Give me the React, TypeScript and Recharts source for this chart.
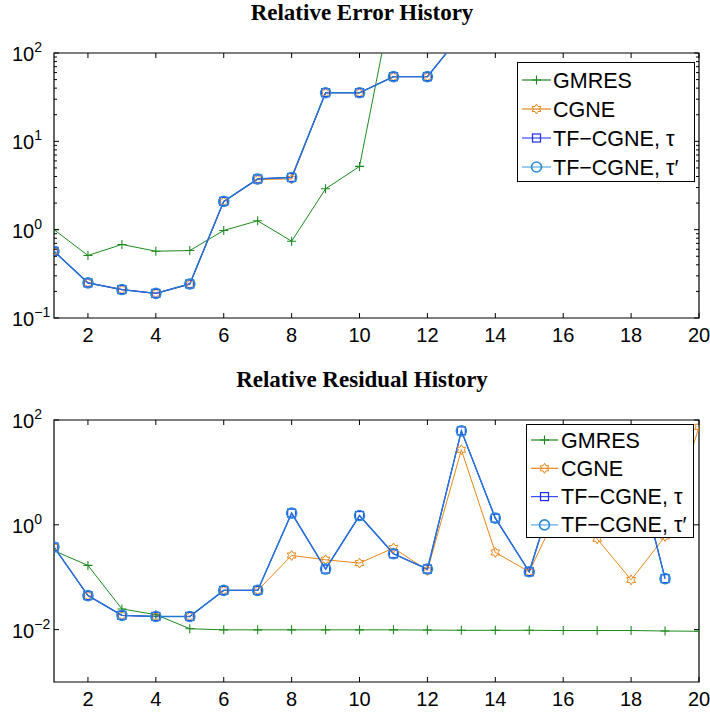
import React from 'react'
import { LineChart, Line, XAxis, YAxis, ReferenceArea, Legend } from 'recharts'

// iteration index shared by both panels
const iterations = [1, 2, 3, 4, 5, 6, 7, 8, 9, 10, 11, 12, 13, 14, 15, 16, 17, 18, 19, 20]

// relative error history (values above 10^2 run off the top of the axes)
const errGmres = [1.0, 0.51, 0.68, 0.57, 0.58, 0.98, 1.26, 0.74, 2.9, 5.2, 460, null, null, null, null, null, null, null, null, null]
const errCgne = [0.57, 0.25, 0.21, 0.19, 0.24, 2.08, 3.7, 3.75, 35.5, 35.5, 54, 54, 162, null, null, null, null, null, null, null]
const errTfTau = [0.57, 0.25, 0.21, 0.19, 0.243, 2.09, 3.75, 3.9, 35.5, 35.5, 54, 54, 162, null, null, null, null, null, null, null]
const errTfTauPrime = [0.57, 0.25, 0.21, 0.19, 0.243, 2.09, 3.75, 3.9, 35.5, 35.5, 54, 54, 162, null, null, null, null, null, null, null]

// relative residual history
const resGmres = [0.32, 0.168, 0.0248, 0.0193, 0.0104, 0.0099, 0.0099, 0.0099, 0.0099, 0.0099, 0.0099, 0.0098, 0.0097, 0.0097, 0.0097, 0.0096, 0.0096, 0.0096, 0.0094, 0.0093]
const resCgne = [0.376, 0.0445, 0.0187, 0.0178, 0.0178, 0.056, 0.056, 0.26, 0.215, 0.186, 0.36, 0.135, 27, 0.297, 0.127, 3, 0.54, 0.089, 0.6, 74]
const resTfTau = [0.376, 0.0445, 0.0187, 0.0178, 0.0178, 0.056, 0.056, 1.67, 0.143, 1.5, 0.28, 0.143, 62, 1.34, 0.127, 15, 6, 35, 0.094, null]
const resTfTauPrime = [0.376, 0.0445, 0.0187, 0.0178, 0.0178, 0.056, 0.056, 1.67, 0.143, 1.5, 0.28, 0.143, 62, 1.34, 0.127, 15, 6, 35, 0.094, null]

const xTicks = [2, 4, 6, 8, 10, 12, 14, 16, 18, 20]
const errTicks = [0.1, 0.2, 0.3, 0.4, 0.5, 0.6, 0.7, 0.8, 0.9, 1, 2, 3, 4, 5, 6, 7, 8, 9, 10, 20, 30, 40, 50, 60, 70, 80, 90, 100]
const resTicks = [0.01, 1, 100]

const seriesNames = ['GMRES', 'CGNE', 'TF\u2212CGNE, \u03c4', 'TF\u2212CGNE, \u03c4\u2032']

const GREEN = '#1c8a1c'
const ORANGE = '#e8861a'
const BLUE = '#1a2cf0'
const SKY = '#2b8ad8'

const FONT = '"Liberation Sans", Arial, sans-serif'
const SERIF = '"Liberation Serif", "Times New Roman", serif'

const errData = iterations.map((it, i) => ({
  it, gmres: errGmres[i], cgne: errCgne[i], tau: errTfTau[i], taup: errTfTauPrime[i],
}))
const resData = iterations.map((it, i) => ({
  it, gmres: resGmres[i], cgne: resCgne[i], tau: resTfTau[i], taup: resTfTauPrime[i],
}))

// ---- markers ----
function starPath(cx: number, cy: number, r: number) {
  const ri = r * 0.58
  let d = ''
  for (let k = 0; k < 12; k++) {
    const a = (Math.PI / 6) * k - Math.PI / 2
    const rr = k % 2 === 0 ? r : ri
    d += (k === 0 ? 'M' : 'L') + (cx + rr * Math.cos(a)).toFixed(2) + ',' + (cy + rr * Math.sin(a)).toFixed(2)
  }
  return d + 'Z'
}

function Marker({ kind, cx, cy }: { kind: string; cx: number; cy: number }) {
  if (kind === 'plus') {
    return <path d={`M${cx - 4.5},${cy}H${cx + 4.5}M${cx},${cy - 4.5}V${cy + 4.5}`} stroke={GREEN} strokeWidth={1.1} fill="none" />
  }
  if (kind === 'star') {
    return <path d={starPath(cx, cy, 5)} stroke={ORANGE} strokeWidth={1} fill="none" />
  }
  if (kind === 'square') {
    return <rect x={cx - 4} y={cy - 4} width={8} height={8} stroke={BLUE} strokeWidth={1.2} fill="none" />
  }
  return <circle cx={cx} cy={cy} r={5} stroke={SKY} strokeWidth={1.6} fill="none" />
}

const makeDot = (kind: string) => (p: any) => {
  if (p.cx == null || p.cy == null || p.value == null) return <g key={`e-${p.index}`} />
  return <Marker key={`${kind}-${p.index}`} kind={kind} cx={p.cx} cy={p.cy} />
}

// ---- axes ----
const makeXTick = (top: number, bottom: number) => (p: any) => {
  const { x, payload } = p
  return (
    <g>
      <line x1={x} x2={x} y1={bottom} y2={bottom - 5} stroke="#000" />
      <line x1={x} x2={x} y1={top} y2={top + 5} stroke="#000" />
      <text x={x} y={bottom + 24} textAnchor="middle" fontSize={20} fontFamily={FONT} fill="#000">
        {payload.value}
      </text>
    </g>
  )
}

const makeYTick = (left: number, right: number) => (p: any) => {
  const { y, payload } = p
  const lg = Math.log10(payload.value)
  const e = Math.round(lg)
  const major = Math.abs(lg - e) < 1e-6
  const len = major ? 5 : 3
  return (
    <g>
      <line x1={left} x2={left + len} y1={y} y2={y} stroke="#000" />
      <line x1={right - len} x2={right} y1={y} y2={y} stroke="#000" />
      {major && (
        <text x={12} y={y + 8} fontSize={20} fontFamily={FONT} fill="#000">
          10<tspan dy={-9} fontSize={14}>{e < 0 ? '\u2212' + -e : String(e)}</tspan>
        </text>
      )}
    </g>
  )
}

// ---- legend ----
const LegendBox = ({ width, height, rowTop, rowGap, lineX, lineW, textX }: any) => (
  <div style={{ width, height, background: '#fff', border: '1px solid #000', boxSizing: 'border-box' }}>
    <svg width={width - 2} height={height - 2} style={{ display: 'block' }}>
      {seriesNames.map((name, i) => {
        const cy = rowTop + i * rowGap
        const kinds = ['plus', 'star', 'square', 'circle']
        const lineColors = [GREEN, ORANGE, '#3a4cff', '#5aaae6']
        const cx = lineX + lineW / 2
        return (
          <g key={name}>
            <line x1={lineX} x2={lineX + lineW} y1={cy} y2={cy} stroke={lineColors[i]} strokeWidth={1.2} />
            <Marker kind={kinds[i]} cx={cx} cy={cy} />
            <text x={textX} y={cy + 7.5} fontSize={21.5} fontFamily={FONT} fill="#000">{name}</text>
          </g>
        )
      })}
    </svg>
  </div>
)

function Panel({ data, domain, ticks, top, bottom, height, legend }: any) {
  const left = 54
  const right = 699
  return (
    <LineChart width={710} height={height} data={data} margin={{ top, right: 710 - right, bottom: 0, left: 0 }}>
      <XAxis
        dataKey="it" type="number" domain={[1, 20]} ticks={xTicks} interval={0} allowDataOverflow
        axisLine={false} tickLine={false} height={height - bottom} tick={makeXTick(top, bottom)}
      />
      <YAxis
        scale="log" domain={domain} ticks={ticks} interval={0} allowDataOverflow
        axisLine={false} tickLine={false} width={left} tick={makeYTick(left, right)}
      />
      <ReferenceArea x1={1} x2={20} y1={domain[0]} y2={domain[1]} fill="#fff" fillOpacity={0} stroke="#000" strokeWidth={1.2} />
      <Line dataKey="gmres" stroke={GREEN} strokeWidth={1} dot={makeDot('plus')} isAnimationActive={false} />
      <Line dataKey="cgne" stroke={ORANGE} strokeWidth={1} dot={makeDot('star')} isAnimationActive={false} />
      <Line dataKey="tau" stroke={BLUE} strokeWidth={1.2} dot={makeDot('square')} isAnimationActive={false} />
      <Line dataKey="taup" stroke="#2276d6" strokeWidth={1.3} dot={makeDot('circle')} isAnimationActive={false} />
      <Legend
        layout="vertical" align="center" verticalAlign="middle"
        wrapperStyle={{ left: legend.left, top: legend.top, width: legend.width, height: legend.height }}
        content={() => <LegendBox {...legend} />}
      />
    </LineChart>
  )
}

export default function App() {
  return (
    <div style={{ position: 'absolute', left: 0, top: 0, width: 710, height: 713, background: '#fff' }}>
      <svg width={710} height={713} style={{ position: 'absolute', left: 0, top: 0 }}>
        <text x={362} y={20} textAnchor="middle" fontSize={23} fontWeight="bold" fontFamily={SERIF}>
          Relative Error History
        </text>
        <text x={362} y={387} textAnchor="middle" fontSize={23} fontWeight="bold" fontFamily={SERIF}>
          Relative Residual History
        </text>
      </svg>
      <div style={{ position: 'absolute', left: 0, top: 0 }}>
        <Panel
          data={errData} domain={[0.1, 100]} ticks={errTicks} top={53} bottom={318} height={356}
          legend={{ left: 517, top: 62, width: 178, height: 120, rowTop: 17, rowGap: 29, lineX: 4, lineW: 29, textX: 35 }}
        />
      </div>
      <div style={{ position: 'absolute', left: 0, top: 356 }}>
        <Panel
          data={resData} domain={[0.001, 100]} ticks={resTicks} top={64} bottom={326} height={357}
          legend={{ left: 526, top: 68, width: 168, height: 114, rowTop: 15, rowGap: 28.3, lineX: 4, lineW: 27, textX: 34 }}
        />
      </div>
    </div>
  )
}
